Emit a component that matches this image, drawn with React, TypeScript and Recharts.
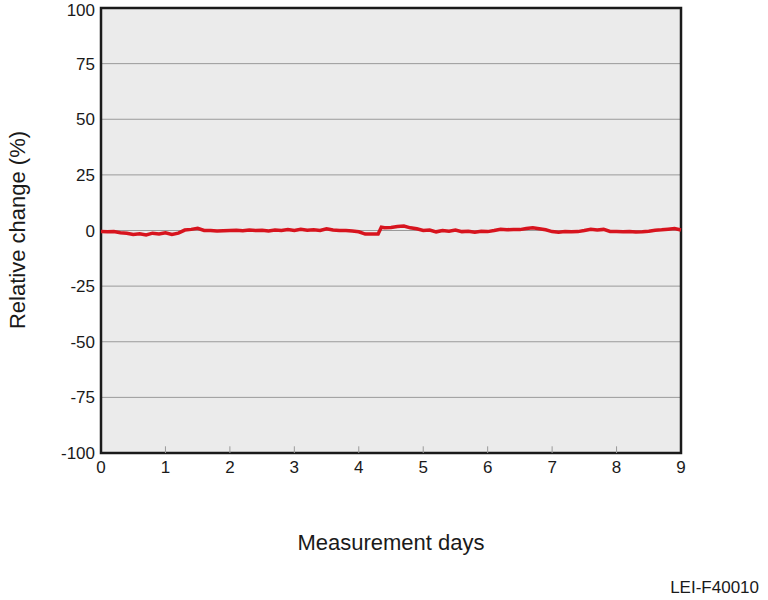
import {
  LineChart,
  Line,
  XAxis,
  YAxis,
  CartesianGrid,
  ReferenceLine,
  ReferenceArea,
} from "recharts";

const days = [
  0, 0.1, 0.2, 0.3, 0.4, 0.5, 0.6, 0.7, 0.8, 0.9,
  1, 1.1, 1.2, 1.3, 1.4, 1.5, 1.6, 1.7, 1.8, 1.9,
  2, 2.1, 2.2, 2.3, 2.4, 2.5, 2.6, 2.7, 2.8, 2.9,
  3, 3.1, 3.2, 3.3, 3.4, 3.5, 3.6, 3.7, 3.8, 3.9,
  4, 4.1, 4.2, 4.3, 4.35, 4.4, 4.5, 4.6, 4.7, 4.8, 4.9,
  5, 5.1, 5.2, 5.3, 5.4, 5.5, 5.6, 5.7, 5.8, 5.9,
  6, 6.1, 6.2, 6.3, 6.4, 6.5, 6.6, 6.7, 6.8, 6.9,
  7, 7.1, 7.2, 7.3, 7.4, 7.5, 7.6, 7.7, 7.8, 7.9,
  8, 8.1, 8.2, 8.3, 8.4, 8.5, 8.6, 8.7, 8.8, 8.9, 9,
];

const relChange = [
  -0.5, -0.6, -0.5, -1.0, -1.2, -1.8, -1.5, -2.0, -1.2, -1.6,
  -1.0, -1.8, -1.2, 0.2, 0.5, 1.0, 0.0, 0.0, -0.2, -0.1,
  0.0, 0.1, -0.1, 0.2, 0.0, 0.1, -0.2, 0.2, 0.0, 0.4,
  0.0, 0.5, 0.1, 0.3, 0.0, 0.8, 0.2, 0.0, 0.0, -0.2,
  -0.6, -1.6, -1.6, -1.6, 1.5, 1.2, 1.4, 1.8, 2.0, 1.2, 0.8,
  0.0, 0.2, -0.6, 0.0, -0.3, 0.2, -0.5, -0.3, -0.8, -0.3,
  -0.5, 0.0, 0.6, 0.3, 0.5, 0.4, 0.9, 1.2, 0.8, 0.3,
  -0.5, -0.8, -0.5, -0.6, -0.5, 0.0, 0.6, 0.2, 0.5, -0.4,
  -0.5, -0.6, -0.4, -0.7, -0.6, -0.3, 0.1, 0.3, 0.6, 0.9, 0.2,
];

const xTicks = [0, 1, 2, 3, 4, 5, 6, 7, 8, 9];
const yTicks = [-100, -75, -50, -25, 0, 25, 50, 75, 100];

const data = days.map((d, i) => ({ day: d, value: relChange[i] }));

const font = '"Liberation Sans", Arial, sans-serif';

export default function App() {
  return (
    <div style={{ position: "absolute", left: 0, top: 0, width: 768, height: 600, background: "#fff" }}>
      <LineChart
        width={768}
        height={600}
        data={data}
        margin={{ top: 8, right: 87, bottom: 117, left: 0 }}
      >
        <CartesianGrid
          vertical={false}
          fill="#ebebeb"
          stroke="#9a9a9a"
          strokeWidth={1}
          horizontalValues={yTicks}
        />
        <XAxis
          dataKey="day"
          type="number"
          domain={[0, 9]}
          ticks={xTicks}
          height={30}
          axisLine={false}
          tickLine={false}
          tickSize={6}
          tick={{ fill: "#1a1a1a", fontSize: 17, fontFamily: font }}
        />
        <YAxis
          type="number"
          domain={[-100, 100]}
          ticks={yTicks}
          width={101}
          axisLine={false}
          tickLine={false}
          tickSize={4}
          tick={{ fill: "#1a1a1a", fontSize: 17, fontFamily: font }}
        />
        {xTicks.slice(1, -1).map((t) => (
          <ReferenceLine
            key={t}
            segment={[{ x: t, y: -100 }, { x: t, y: -97 }]}
            stroke="#9a9a9a"
            strokeWidth={1}
          />
        ))}
        <Line
          dataKey="value"
          stroke="#d7141e"
          strokeWidth={3.5}
          dot={false}
          type="linear"
          isAnimationActive={false}
        />
        <ReferenceArea
          x1={0}
          x2={9}
          y1={-100}
          y2={100}
          fill="none"
          stroke="#1a1a1a"
          strokeWidth={2.5}
          ifOverflow="visible"
        />
      </LineChart>
      <div
        style={{
          position: "absolute",
          left: 18,
          top: 230,
          transform: "translate(-50%, -50%) rotate(-90deg)",
          whiteSpace: "nowrap",
          fontFamily: font,
          fontSize: 22,
          color: "#1a1a1a",
        }}
      >
        Relative change (%)
      </div>
      <div
        style={{
          position: "absolute",
          left: 391,
          top: 543,
          transform: "translate(-50%, -50%)",
          whiteSpace: "nowrap",
          fontFamily: font,
          fontSize: 22,
          color: "#1a1a1a",
        }}
      >
        Measurement days
      </div>
      <div
        style={{
          position: "absolute",
          right: 9,
          top: 588,
          transform: "translateY(-50%)",
          whiteSpace: "nowrap",
          fontFamily: font,
          fontSize: 17,
          color: "#1a1a1a",
        }}
      >
        LEI-F40010
      </div>
    </div>
  );
}
